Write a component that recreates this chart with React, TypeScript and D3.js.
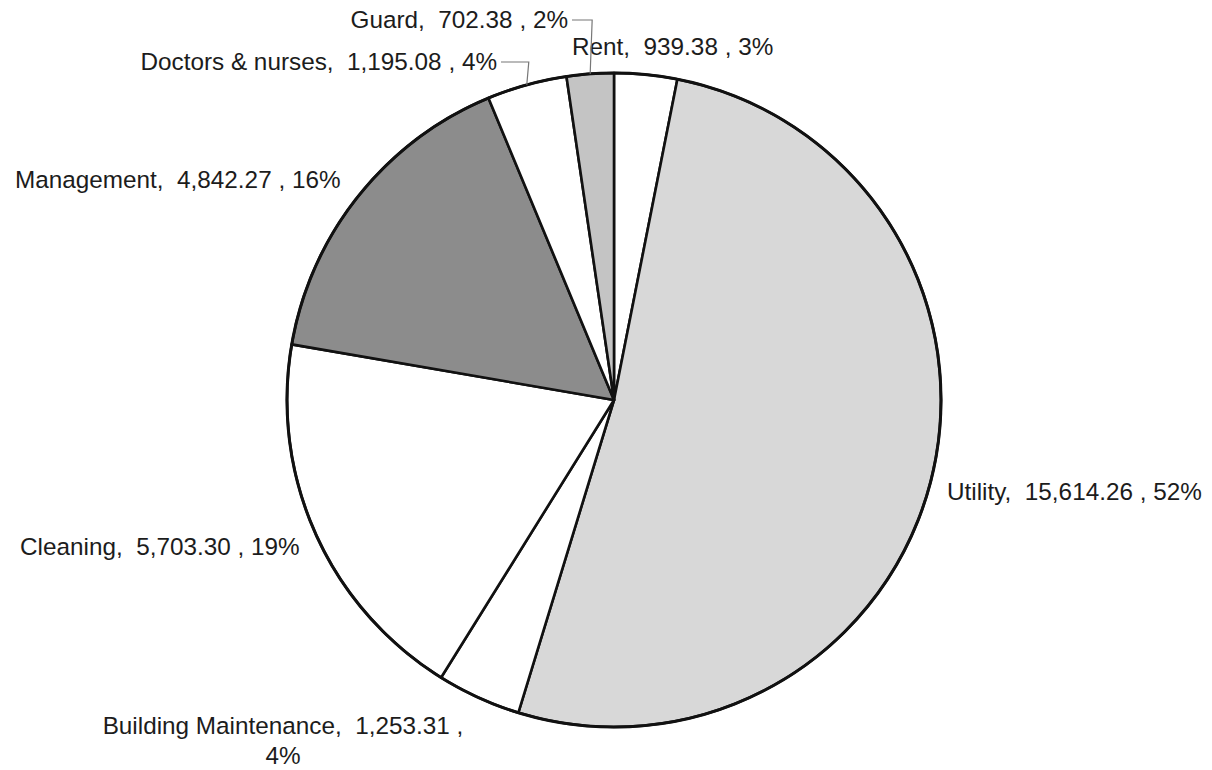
import React from "react";
import * as d3 from "d3";

const categories = ["Rent", "Utility", "Building Maintenance", "Cleaning", "Management", "Doctors & nurses", "Guard"];
const values = [939.38, 15614.26, 1253.31, 5703.3, 4842.27, 1195.08, 702.38];

// styling / layout (not data)
const fills = ["#ffffff", "#d8d8d8", "#ffffff", "#ffffff", "#8c8c8c", "#ffffff", "#c4c4c4"];
type LabelPos = { x: number; y: number; anchor: "start" | "middle" | "end"; leader?: boolean; wrap?: boolean };
const labelLayout: LabelPos[] = [
  { x: 572, y: 55, anchor: "start" },
  { x: 947, y: 500, anchor: "start" },
  { x: 283, y: 734, anchor: "middle", wrap: true },
  { x: 20, y: 555, anchor: "start" },
  { x: 15, y: 188, anchor: "start" },
  { x: 497, y: 70, anchor: "end", leader: true },
  { x: 568, y: 28, anchor: "end", leader: true },
];

const W = 1212;
const H = 770;
const CX = 614;
const CY = 400;
const R = 327;
const FONT = 24.3;

export default function App() {
  const total = d3.sum(values);
  const arcs = d3.pie<number>().sort(null).value((d) => d)(values);
  const arcGen = d3.arc<d3.PieArcDatum<number>>().innerRadius(0).outerRadius(R);
  const fmt = d3.format(",.2f");
  const pct = (v: number) => `${Math.round((v / total) * 100)}%`;

  return (
    <svg
      width={W}
      height={H}
      style={{ position: "fixed", left: 0, top: 0, background: "#fff" }}
      fontFamily="'Liberation Sans', Arial, Helvetica, sans-serif"
    >
      <rect width={W} height={H} fill="#fff" />
      <g transform={`translate(${CX},${CY})`}>
        {arcs.map((a, i) => (
          <path key={i} d={arcGen(a) || ""} fill={fills[i]} stroke="#111" strokeWidth={2.6} strokeLinejoin="round" />
        ))}
        <circle r={R} fill="none" stroke="#111" strokeWidth={3} />
      </g>
      {arcs.map((a, i) => {
        const L = labelLayout[i];
        const name = categories[i];
        const v = values[i];
        const mid = (a.startAngle + a.endAngle) / 2;
        const px = CX + R * Math.sin(mid);
        const py = CY - R * Math.cos(mid);
        const full = `${name},  ${fmt(v)} , ${pct(v)}`;
        const leaderPath = L.leader
          ? d3.line()([
              [L.x + 4, L.y - 8],
              [px + 2, L.y - 8],
              [px, py],
            ])
          : null;
        return (
          <g key={i}>
            {leaderPath && <path d={leaderPath} fill="none" stroke="#777" strokeWidth={1.2} />}
            {L.wrap ? (
              <text x={L.x} y={L.y} textAnchor={L.anchor} fontSize={FONT} fill="#1c1c1c" style={{ whiteSpace: "pre" }}>
                <tspan x={L.x}>{`${name},  ${fmt(v)} ,`}</tspan>
                <tspan x={L.x} dy={30}>{pct(v)}</tspan>
              </text>
            ) : (
              <text x={L.x} y={L.y} textAnchor={L.anchor} fontSize={FONT} fill="#1c1c1c" style={{ whiteSpace: "pre" }}>
                {full}
              </text>
            )}
          </g>
        );
      })}
    </svg>
  );
}
